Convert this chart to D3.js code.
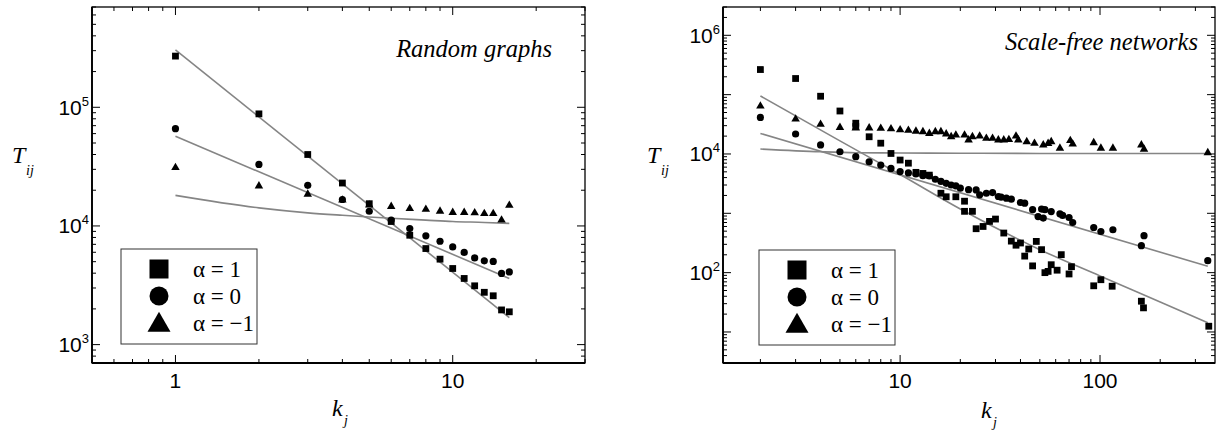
<!DOCTYPE html>
<html>
<head>
<meta charset="utf-8">
<script src="https://cdn.jsdelivr.net/npm/d3@7"></script>
<style>
	body { margin: 0; background: #fff; }
	.sans { font-family: 'Liberation Sans', Arial, sans-serif; }
	.serif { font-family: 'Liberation Serif', 'Times New Roman', serif; }
</style>
</head>
<body>
<svg id="canvas"></svg>
<script>
const width = 1218;
const height = 440;

// ---- Random graphs (left panel) ----
const leftK = [1, 2, 3, 4, 5, 6, 7, 8, 9, 10, 11, 12, 13, 14, 15, 16];
const leftSquares = [2.7e5, 8.8e4, 4.0e4, 2.3e4, 1.54e4, 1.09e4, 8.35e3, 6.45e3, 5.25e3, 4.38e3, 3.61e3, 3.13e3, 2.76e3, 2.58e3, 1.96e3, 1.89e3];
const leftCircles = [6.6e4, 3.3e4, 2.2e4, 1.67e4, 1.33e4, 1.12e4, 9.5e3, 8.25e3, 7.43e3, 6.66e3, 5.98e3, 5.38e3, 5.08e3, 5.02e3, 3.98e3, 4.1e3];
const leftTriangles = [3.1e4, 2.17e4, 1.85e4, 1.65e4, 1.5e4, 1.46e4, 1.4e4, 1.38e4, 1.33e4, 1.3e4, 1.3e4, 1.29e4, 1.27e4, 1.27e4, 1.12e4, 1.49e4];

const leftSqFitK = [1, 16];
const leftSqFit = [3.04e5, 1.69e3];
const leftCircFitK = [1, 16];
const leftCircFit = [5.7e4, 3.61e3];
const leftTriFitK = [1, 2, 3, 4, 5, 6, 8, 10, 13, 16];
const leftTriFit = [1.81e4, 1.42e4, 1.29e4, 1.23e4, 1.19e4, 1.16e4, 1.12e4, 1.09e4, 1.07e4, 1.05e4];

// ---- Scale-free networks (right panel) ----
const rightSquareK = [2, 3, 4, 5, 6, 6, 7, 8, 9, 10, 11, 12, 13, 14, 16, 17, 19, 21, 21, 23, 24, 26, 28, 30, 33, 36, 38, 40, 42, 44, 46, 48, 51, 53, 55, 57, 61, 64, 70, 72, 93, 101, 115, 161, 165, 350];
const rightSquares = [2.65e5, 1.87e5, 9.4e4, 5.3e4, 3.3e4, 2.9e4, 1.95e4, 1.52e4, 1.02e4, 7.9e3, 7.0e3, 4.9e3, 4.7e3, 4.4e3, 2.18e3, 1.9e3, 1.9e3, 1.6e3, 1.08e3, 1.08e3, 550, 600, 730, 800, 465, 340, 290, 316, 190, 250, 130, 336, 244, 100, 105, 136, 110, 201, 95, 126, 60, 76, 59, 33, 25.5, 12.5];
const rightCircleK = [2, 3, 4, 5, 6, 7, 8, 9, 10, 11, 12, 13, 14, 15, 16, 17, 18, 19, 20, 22, 24, 25, 27, 29, 31, 32, 34, 36, 40, 42, 46, 49, 51, 52, 53, 57, 63, 65, 70, 73, 93, 101, 116, 161, 166, 346];
const rightCircles = [4.13e4, 2.17e4, 1.42e4, 1.09e4, 9.0e3, 7.4e3, 6.5e3, 5.7e3, 5.05e3, 4.8e3, 4.6e3, 4.3e3, 4.25e3, 3.75e3, 3.45e3, 3.2e3, 3.0e3, 2.9e3, 2.65e3, 2.5e3, 2.48e3, 2.05e3, 2.18e3, 2.24e3, 1.92e3, 1.87e3, 1.8e3, 1.73e3, 1.52e3, 1.48e3, 1.15e3, 880, 1.18e3, 830, 1.15e3, 1.07e3, 980, 920, 850, 700, 577, 494, 528, 285, 419, 159];
const rightTriK = [2, 3, 4, 5, 6, 7, 8, 9, 10, 11, 12, 13, 14, 15, 16, 17, 18, 19, 21, 22, 23, 25, 27, 29, 31, 33, 35, 38, 39, 43, 47, 52, 55, 57, 63, 71, 73, 93, 101, 116, 161, 166, 346];
const rightTriangles = [6.4e4, 3.87e4, 3.16e4, 2.8e4, 2.74e4, 2.74e4, 2.7e4, 2.65e4, 2.55e4, 2.5e4, 2.42e4, 2.37e4, 2.22e4, 2.37e4, 2.37e4, 2.17e4, 1.95e4, 2.08e4, 2.08e4, 1.72e4, 1.95e4, 2.0e4, 1.83e4, 1.83e4, 1.72e4, 1.72e4, 1.75e4, 2.0e4, 1.72e4, 1.61e4, 1.51e4, 1.42e4, 1.5e4, 1.61e4, 1.25e4, 1.68e4, 1.47e4, 1.55e4, 1.25e4, 1.25e4, 1.42e4, 1.2e4, 1.05e4];

const rightSqFitK = [2, 5, 10, 20, 50, 100, 200, 346];
const rightSqFit = [9.5e4, 1.66e4, 4.5e3, 1.18e3, 244, 88, 32, 14.3];
const rightCircFitK = [2, 346];
const rightCircFit = [2.22e4, 128];
const rightTriFitK = [2, 4, 6, 10, 20, 50, 100, 346];
const rightTriFit = [1.21e4, 1.09e4, 1.05e4, 1.04e4, 1.03e4, 1.02e4, 1.02e4, 1.02e4];

const legendLabels = ['α = 1', 'α = 0', 'α = −1'];
const legendShapes = ['square', 'circle', 'triangle'];

const canvas = d3.select('#canvas').attr('width', width).attr('height', height);

const zip = (ks, vs) => ks.map((k, i) => ({ k: k, v: vs[i] }));

const symbolPath = (shape, s) => {
	// s = nominal width of the marker in px
	switch (shape) {
		case 'square':
			return d3.symbol(d3.symbolSquare, s * s)();
		case 'circle':
			return d3.symbol(d3.symbolCircle, Math.PI * (s / 2) * (s / 2))();
		case 'triangle':
			return d3.symbol(d3.symbolTriangle, (Math.sqrt(3) / 4) * s * s)();
		default:
			break;
	}
};

const isPow10 = (t) => Math.abs(Math.log10(t) - Math.round(Math.log10(t))) < 1e-6;

const drawPanel = (p) => {
	const x = d3.scaleLog().domain(p.xDomain).range([p.left, p.right]);
	const y = d3.scaleLog().domain(p.yDomain).range([p.bottom, p.top]);
	const g = canvas.append('g');

	// ticks on all four sides, pointing inward
	const xt = x.ticks();
	const yt = y.ticks(12);
	const major = 8;
	const minor = 4;

	g.selectAll('.xb').data(xt).enter().append('line')
		.attr('x1', (d) => x(d)).attr('x2', (d) => x(d))
		.attr('y1', p.bottom).attr('y2', (d) => p.bottom - (isPow10(d) ? major : minor))
		.attr('stroke', '#000').attr('stroke-width', 1);
	g.selectAll('.xt').data(xt).enter().append('line')
		.attr('x1', (d) => x(d)).attr('x2', (d) => x(d))
		.attr('y1', p.top).attr('y2', (d) => p.top + (isPow10(d) ? major : minor))
		.attr('stroke', '#000').attr('stroke-width', 1);
	g.selectAll('.yl').data(yt).enter().append('line')
		.attr('y1', (d) => y(d)).attr('y2', (d) => y(d))
		.attr('x1', p.left).attr('x2', (d) => p.left + (isPow10(d) ? major : minor))
		.attr('stroke', '#000').attr('stroke-width', 1);
	g.selectAll('.yr').data(yt).enter().append('line')
		.attr('y1', (d) => y(d)).attr('y2', (d) => y(d))
		.attr('x1', p.right).attr('x2', (d) => p.right - (isPow10(d) ? major : minor))
		.attr('stroke', '#000').attr('stroke-width', 1);

	// frame
	g.append('rect')
		.attr('x', p.left).attr('y', p.top)
		.attr('width', p.right - p.left).attr('height', p.bottom - p.top)
		.attr('fill', 'none').attr('stroke', '#000').attr('stroke-width', 1.3);
	g.append('line').attr('x1', p.left).attr('x2', p.right).attr('y1', p.bottom).attr('y2', p.bottom)
		.attr('stroke', '#000').attr('stroke-width', 1.8);
	g.append('line').attr('x1', p.left).attr('x2', p.left).attr('y1', p.top).attr('y2', p.bottom)
		.attr('stroke', '#000').attr('stroke-width', 1.8);

	// tick labels
	g.selectAll('.xlab').data(p.xLabels).enter().append('text')
		.attr('class', 'sans')
		.attr('x', (d) => x(d)).attr('y', p.bottom + 25)
		.attr('text-anchor', 'middle')
		.style('font-size', '21px')
		.text((d) => d);

	const ylab = g.selectAll('.ylab').data(p.yLabels).enter().append('text')
		.attr('class', 'sans')
		.attr('x', p.left - 3).attr('y', (d) => y(Math.pow(10, d)) + 7.5)
		.attr('text-anchor', 'end')
		.style('font-size', '21px');
	ylab.append('tspan').text('10');
	ylab.append('tspan').style('font-size', '13px').attr('dy', -9).text((d) => d);

	// fitted curves
	const line = d3.line().x((d) => x(d.k)).y((d) => y(d.v)).curve(d3.curveMonotoneX);
	p.fits.forEach((f) => {
		g.append('path')
			.attr('d', line(zip(f[0], f[1])))
			.attr('fill', 'none').attr('stroke', '#858585').attr('stroke-width', 1.6);
	});

	// markers
	p.series.forEach((s) => {
		g.selectAll(null).data(zip(s.k, s.v)).enter().append('path')
			.attr('d', symbolPath(s.shape, s.size))
			.attr('transform', (d) => `translate(${x(d.k)},${y(d.v)})`)
			.attr('fill', '#000');
	});

	// legend
	const lg = g.append('g').attr('transform', `translate(${p.legend[0]},${p.legend[1]})`);
	lg.append('rect').attr('width', 136).attr('height', 95)
		.attr('fill', '#fff').attr('stroke', '#333').attr('stroke-width', 1);
	legendShapes.forEach((shape, i) => {
		const cy = 20 + i * 27;
		lg.append('path').attr('d', symbolPath(shape, shape === 'triangle' ? 23 : 19))
			.attr('transform', `translate(38,${cy + (shape === 'triangle' ? 2 : 0)})`)
			.attr('fill', '#000');
		lg.append('text').attr('class', 'serif')
			.attr('x', 72).attr('y', cy + 8)
			.style('font-size', '23px')
			.text(legendLabels[i]);
	});

	// title
	g.append('text').attr('class', 'serif')
		.attr('x', p.title[1]).attr('y', p.title[2])
		.attr('text-anchor', 'end')
		.style('font-style', 'italic')
		.style('font-size', '24.5px')
		.text(p.title[0]);

	// axis labels
	const label = (txt, xp, yp, size) =>
		g.append('text').attr('class', 'serif')
			.attr('x', xp).attr('y', yp)
			.style('font-style', 'italic').style('font-size', size + 'px')
			.text(txt);
	label('T', p.tPos[0], p.tPos[1], 24);
	label('ij', p.tPos[0] + 14, p.tPos[1] + 12, 14);
	label('k', p.kPos[0], p.kPos[1], 24);
	label('j', p.kPos[0] + 12, p.kPos[1] + 9, 14);
};

drawPanel({
	left: 92, right: 585, top: 7, bottom: 363,
	xDomain: [0.5, 30], yDomain: [700, 7e5],
	xLabels: [1, 10], yLabels: [3, 4, 5],
	fits: [[leftSqFitK, leftSqFit], [leftCircFitK, leftCircFit], [leftTriFitK, leftTriFit]],
	series: [
		{ k: leftK, v: leftTriangles, shape: 'triangle', size: 8.5 },
		{ k: leftK, v: leftCircles, shape: 'circle', size: 7.2 },
		{ k: leftK, v: leftSquares, shape: 'square', size: 6.8 }
	],
	legend: [121, 249],
	title: ['Random graphs', 552, 57],
	tPos: [12, 163],
	kPos: [332, 416]
});

drawPanel({
	left: 723, right: 1215, top: 7, bottom: 363,
	xDomain: [1.3, 376], yDomain: [3, 3e6],
	xLabels: [10, 100], yLabels: [2, 4, 6],
	fits: [[rightSqFitK, rightSqFit], [rightCircFitK, rightCircFit], [rightTriFitK, rightTriFit]],
	series: [
		{ k: rightTriK, v: rightTriangles, shape: 'triangle', size: 8.5 },
		{ k: rightCircleK, v: rightCircles, shape: 'circle', size: 7.2 },
		{ k: rightSquareK, v: rightSquares, shape: 'square', size: 6.8 }
	],
	legend: [759, 250],
	title: ['Scale-free networks', 1198, 50],
	tPos: [647, 163],
	kPos: [981, 418]
});
</script>
</body>
</html>
